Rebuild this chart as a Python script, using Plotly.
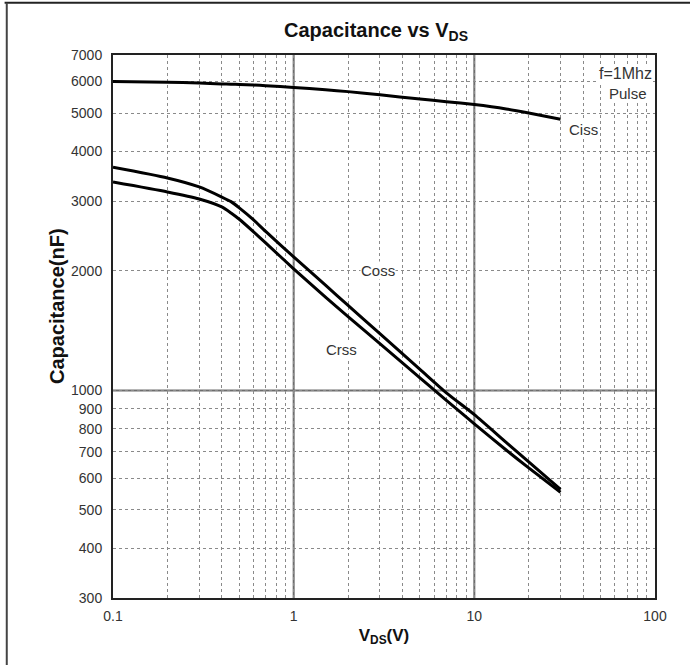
import numpy as np
import plotly.graph_objects as go

# ---- data ----
vds = [0.1, 0.2, 0.3, 0.4, 0.45, 0.5, 0.6, 0.7, 1, 1.5, 2, 3, 5, 7, 10, 15, 20, 30]
ciss = [6000, 5980, 5950, 5920, 5910, 5900, 5880, 5860, 5800, 5720, 5660, 5560, 5420, 5340, 5250, 5120, 5000, 4820]
coss = [3650, 3430, 3256, 3071, 2990, 2885, 2690, 2515, 2170, 1841, 1637, 1390, 1130, 986, 869, 740, 661, 563]
crss = [3350, 3163, 3037, 2900, 2800, 2700, 2510, 2353, 2025, 1718, 1535, 1312, 1076, 944, 824, 708, 638, 554]

x_ticks = [0.1, 0.2, 0.3, 0.4, 0.5, 0.6, 0.7, 0.8, 0.9, 1, 2, 3, 4, 5, 6, 7, 8, 9, 10,
           20, 30, 40, 50, 60, 70, 80, 90, 100]
x_labels = ["0.1"] + [""] * 8 + ["1"] + [""] * 8 + ["10"] + [""] * 8 + ["100"]
y_ticks = [300, 400, 500, 600, 700, 800, 900, 1000, 2000, 3000, 4000, 5000, 6000, 7000]
y_labels = [str(v) for v in y_ticks]
x_major = [1, 10]
y_major = [1000]

fig = go.Figure()
for name, vals in [("Ciss", ciss), ("Coss", coss), ("Crss", crss)]:
    fig.add_trace(go.Scatter(x=vds, y=vals, mode="lines", name=name,
                             line=dict(color="black", width=3, shape="spline", smoothing=0.6),
                             showlegend=False))

for xv in x_major:
    fig.add_shape(type="line", xref="x", yref="paper", x0=xv, x1=xv, y0=0, y1=1,
                  line=dict(color="#6e6e6e", width=2), layer="below")
for yv in y_major:
    fig.add_shape(type="line", xref="paper", yref="y", x0=0, x1=1, y0=yv, y1=yv,
                  line=dict(color="#6e6e6e", width=2), layer="below")

# outer frame of the picture (top and left edges)
fig.add_shape(type="line", xref="paper", yref="paper", x0=-0.2, x1=1.1, y0=1.096, y1=1.096,
              line=dict(color="#222", width=2))
fig.add_shape(type="line", xref="paper", yref="paper", x0=-0.196, x1=-0.196, y0=-0.2, y1=1.096,
              line=dict(color="#444", width=2))

lab_font = dict(family="Liberation Sans, Arial", size=15, color="#333")
anns = [
    ("Ciss", 40.2, 4536),
    ("Coss", 2.94, 2000),
    ("Crss", 1.83, 1265),
]
for t, xv, yv in anns:
    fig.add_annotation(x=np.log10(xv), y=np.log10(yv), text=t, showarrow=False,
                       font=lab_font, bgcolor="white", borderpad=0)
fig.add_annotation(x=np.log10(97), y=np.log10(6300), text="f=1Mhz", showarrow=False,
                   xanchor="right", font=dict(family="Liberation Sans, Arial", size=16, color="#333"),
                   bgcolor="white", borderpad=0)
fig.add_annotation(x=np.log10(71), y=np.log10(5600), text="Pulse", showarrow=False,
                   font=lab_font, bgcolor="white", borderpad=0)

# y-axis title
fig.add_annotation(xref="paper", yref="paper", x=(57 - 113) / 542, y=(598 - 306) / 543,
                   xanchor="center", yanchor="middle",
                   text="<b>Capacitance(nF)</b>", textangle=-90, showarrow=False,
                   font=dict(family="Liberation Sans, Arial", size=20, color="#111"))

fig.update_layout(
    width=690, height=665,
    margin=dict(l=113, r=35, t=55, b=67),
    paper_bgcolor="white", plot_bgcolor="white",
    font=dict(family="Liberation Sans, Arial", color="#222"),
    title=dict(text="<b>Capacitance vs V<sub>DS</sub></b>", x=0.545, xanchor="center",
               y=0.955, yanchor="middle", font=dict(size=20, color="#111")),
)
fig.update_xaxes(type="log", range=[-1, 2], tickvals=x_ticks, ticktext=x_labels,
                 showgrid=True, gridcolor="#8a8a8a", gridwidth=1, griddash="dot",
                 showline=True, linecolor="#222", linewidth=2, mirror=True,
                 ticks="", ticklabelstandoff=4, tickfont=dict(size=14, color="#333"),
                 title=dict(text="<b>V<sub>DS</sub>(V)</b>", font=dict(size=17, color="#111"), standoff=6),
                 zeroline=False)
fig.update_yaxes(type="log", range=[np.log10(300), np.log10(7000)], tickvals=y_ticks, ticktext=y_labels,
                 showgrid=True, gridcolor="#8a8a8a", gridwidth=1, griddash="dot",
                 showline=True, linecolor="#222", linewidth=2, mirror=True,
                 ticks="", ticklabelstandoff=6, tickfont=dict(size=14, color="#333"),
                 zeroline=False)

fig.write_html("out.html")
